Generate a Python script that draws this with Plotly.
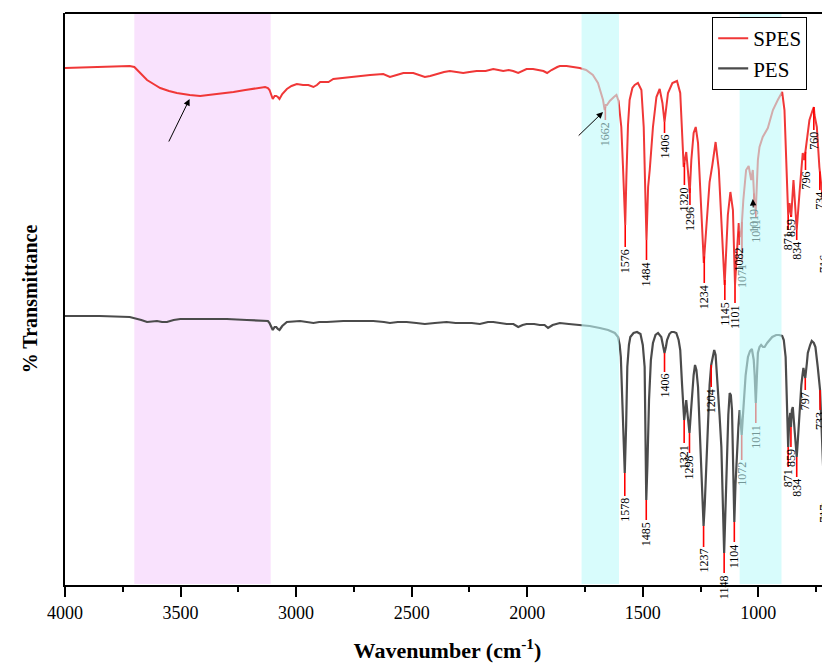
import numpy as np
import plotly.graph_objects as go

# ---------------- data (transmittance in arbitrary units) ----------------
spes_wn = [4000,3850,3720,3700,3680,3645,3610,3588,3550,3516,3460,3415,3380,3343,3300,3271,3220,3156,3134,3122,3115,3101,3093,3086,3079,3072,3060,3040,3020,2997,2970,2947,2925,2910,2896,2860,2839,2800,2767,2720,2680,2623,2594,2565,2536,2493,2465,2443,2420,2392,2360,2335,2300,2277,2250,2219,2180,2147,2125,2104,2080,2061,2039,2020,2003,1975,1946,1930,1914,1895,1870,1859,1830,1800,1773,1745,1716,1694,1680,1672,1665,1660,1655,1643,1625,1614,1605,1600,1593,1586,1580,1576,1571,1564,1557,1545,1535,1521,1506,1496,1490,1484,1477,1470,1456,1441,1427,1415,1406,1401,1391,1372,1352,1338,1329,1323,1318,1312,1305,1297,1290,1280,1271,1261,1247,1236,1225,1211,1199,1185,1171,1160,1152,1146,1140,1132,1121,1110,1101,1093,1085,1080,1074,1065,1053,1042,1031,1024,1017,1011,1006,1002,995,981,959,937,916,897,887,877,871,865,858,848,841,834,822,808,801,793,779,765,760,757,747,736,721,716,707,697,692]
spes_t = [517,518,519,518,513,505,500,497,494,492,490,489,490,491,492,493,495,497,498,497,495,486,489,489,488,486,491,496,499,501,500,500,498,500,503,503,506,507,508,509,510,511,508,510,512,512,510,508,509,511,513,514,513,512,513,514,514,516,515,514,515,514,512,514,516,516,515,514,512,515,518,519,519,518,517,515,510,502,490,485,475,480,480,484,488,490,484,475,458,420,375,360,408,460,485,497,500,502,495,458,400,345,398,415,458,488,496,482,463,475,492,502,504,492,442,418,425,433,415,392,425,452,458,442,375,322,358,403,420,443,415,358,320,300,330,370,393,375,300,338,362,348,352,385,415,419,405,415,382,375,400,425,438,448,457,475,485,493,475,408,370,382,368,405,378,355,392,432,425,438,465,475,478,470,458,418,385,350,345,325,322]

pes_wn = [4000,3850,3720,3700,3670,3645,3620,3602,3580,3559,3530,3501,3440,3372,3300,3213,3141,3122,3115,3101,3093,3086,3079,3072,3060,3040,2983,2950,2925,2900,2867,2796,2720,2666,2620,2594,2560,2522,2480,2443,2400,2349,2310,2277,2240,2205,2170,2147,2120,2089,2060,2039,2020,2003,1970,1946,1925,1910,1890,1859,1820,1773,1730,1686,1650,1621,1607,1600,1595,1588,1578,1572,1567,1560,1554,1540,1525,1510,1500,1492,1488,1485,1480,1473,1465,1456,1445,1434,1420,1412,1406,1400,1395,1385,1376,1365,1355,1345,1338,1330,1321,1316,1312,1306,1298,1292,1286,1280,1274,1268,1261,1251,1245,1237,1232,1225,1218,1211,1204,1197,1191,1185,1175,1168,1160,1155,1148,1143,1138,1130,1124,1119,1114,1110,1104,1099,1093,1086,1081,1077,1072,1068,1063,1055,1045,1036,1028,1020,1016,1011,1007,1002,995,988,980,973,962,952,940,923,910,897,890,882,876,871,866,862,859,855,851,847,840,834,829,822,814,809,805,800,797,790,786,776,769,760,753,743,738,733,727,721,717,712,707,703,700,696,692]
pes_t = [269,269,268,267,265,263,264,264,263,263,265,266,266,266,266,265,264,264,262,255,258,258,256,255,259,263,264,263,262,263,263,264,264,264,263,262,263,263,262,261,262,263,262,262,262,261,263,263,262,261,261,258,260,261,261,260,260,257,260,262,261,260,259,257,255,252,248,240,228,180,112,160,218,240,248,252,253,251,240,218,160,85,120,185,225,242,250,252,248,240,232,238,245,251,253,253,252,245,235,200,165,175,185,170,152,172,195,210,220,215,198,140,100,59,80,118,160,200,220,230,235,230,198,170,138,90,32,70,118,170,192,190,175,135,63,100,135,160,175,165,150,165,188,210,228,234,236,225,210,182,205,232,238,240,238,238,242,245,248,250,250,249,245,228,190,138,165,172,158,175,178,165,140,128,145,175,200,210,217,210,207,222,232,240,244,242,238,218,205,195,160,130,102,110,103,110,100,102,105]

spes_peak_wn = [1662,1576,1484,1406,1320,1296,1234,1145,1101,1082,1071,1019,1011,871,859,834,796,760,734,716,697]
spes_peak_label = ["1662","1576","1484","1406","1320","1296","1234","1145","1101","1082","1071","1019","1011","871","859","834","796","760","734","716","697"]
spes_label_t = [465,338,325,452,400,380,302,285,282,340,323,378,368,355,368,345,415,455,395,332,318]

pes_peak_wn = [1578,1485,1406,1321,1298,1237,1204,1148,1104,1072,1011,871,859,834,797,733,717,707,700]
pes_peak_label = ["1578","1485","1406","1321","1298","1237","1204","1148","1104","1072","1011","871","859","834","797","733","717","707","700"]
pes_label_t = [89,65,213,142,132,38,198,12,43,125,162,118,138,108,195,175,82,84,82]

pink_band = (3700, 3110)
cyan_bands = [(1765, 1603), (1081, 900)]

# ---------------- styling ----------------
SERIF = "Liberation Serif, Times New Roman, serif"
RED = "rgb(240,55,55)"
GRAY = "rgb(75,75,75)"
YMAX = 572

fig = go.Figure()
fig.add_trace(go.Scatter(x=spes_wn, y=spes_t, mode="lines", name="SPES",
                         line=dict(color=RED, width=2)))
fig.add_trace(go.Scatter(x=pes_wn, y=pes_t, mode="lines", name="PES",
                         line=dict(color=GRAY, width=2.2)))

shapes = []
# pink band below the data
shapes.append(dict(type="rect", xref="x", yref="y", x0=pink_band[0], x1=pink_band[1],
                   y0=1, y1=YMAX - 1, fillcolor="rgb(245,207,252)", opacity=0.6,
                   line=dict(width=0), layer="below"))


def in_cyan(w):
    return any(b[1] <= w <= b[0] for b in cyan_bands)


annotations = []
for wns, lbls, lts, xs, ys in [(spes_peak_wn, spes_peak_label, spes_label_t, spes_wn, spes_t),
                               (pes_peak_wn, pes_peak_label, pes_label_t, pes_wn, pes_t)]:
    xa = np.array(xs[::-1], dtype=float)
    ya = np.array(ys[::-1], dtype=float)
    for w, lab, lt in zip(wns, lbls, lts):
        yc = float(np.interp(w, xa, ya))
        if yc > lt:
            shapes.append(dict(type="line", xref="x", yref="y", x0=w, x1=w, y0=yc, y1=lt,
                               line=dict(color="rgb(255,0,0)", width=1.6), layer="above"))
        annotations.append(dict(x=w, y=lt, xref="x", yref="y", text=lab, showarrow=False,
                                textangle=-90, xanchor="center", yanchor="top",
                                font=dict(family=SERIF, size=12,
                                          color="rgb(115,150,150)" if in_cyan(w) else "black")))

# cyan bands over the data
for b in cyan_bands:
    shapes.append(dict(type="rect", xref="x", yref="y", x0=b[0], x1=b[1],
                       y0=1, y1=YMAX - 1, fillcolor="rgb(190,250,250)", opacity=0.6,
                       line=dict(width=0), layer="above"))
# top frame line
shapes.append(dict(type="line", xref="paper", yref="paper", x0=0, x1=1, y0=1, y1=1,
                   line=dict(color="black", width=2)))

# arrows
arrow_style = dict(showarrow=True, arrowhead=2, arrowsize=1.3, arrowwidth=1,
                   arrowcolor="black", text="", axref="x", ayref="y")
annotations.append(dict(x=3461, y=486, ax=3554, ay=442, xref="x", yref="y", **arrow_style))
annotations.append(dict(x=1672, y=473, ax=1784, ay=448, xref="x", yref="y", **arrow_style))
annotations.append(dict(x=1024, y=386, ax=1022, ay=376, xref="x", yref="y", **arrow_style))

fig.update_layout(
    width=822, height=656,
    margin=dict(l=57, r=0, t=5, b=79, autoexpand=False),
    paper_bgcolor="white", plot_bgcolor="white",
    shapes=shapes, annotations=annotations,
    legend=dict(x=0.846, y=0.993, xanchor="left", yanchor="top",
                bordercolor="black", borderwidth=1, bgcolor="white",
                font=dict(family=SERIF, size=21, color="black"),
                tracegroupgap=0, itemwidth=30),
    xaxis=dict(range=[4000, 690], showgrid=False, zeroline=False, automargin=False,
               showline=True, linecolor="black", linewidth=2,
               ticks="outside", ticklen=10, tickwidth=2, tickcolor="black",
               tick0=0, dtick=500,
               minor=dict(ticks="outside", ticklen=5, tickwidth=2, tickcolor="black", dtick=250),
               tickfont=dict(family=SERIF, size=18, color="black"),
               title=dict(text="<b>Wavenumber (cm<sup>-1</sup>)</b>",
                          font=dict(family=SERIF, size=22, color="black"), standoff=21)),
    yaxis=dict(range=[0, YMAX], showgrid=False, zeroline=False, automargin=False,
               showline=True, linecolor="black", linewidth=2,
               ticks="", showticklabels=False,
               title=dict(text="<b>% Transmittance</b>",
                          font=dict(family=SERIF, size=20, color="black"), standoff=20)),
)

fig.write_html("out.html")
